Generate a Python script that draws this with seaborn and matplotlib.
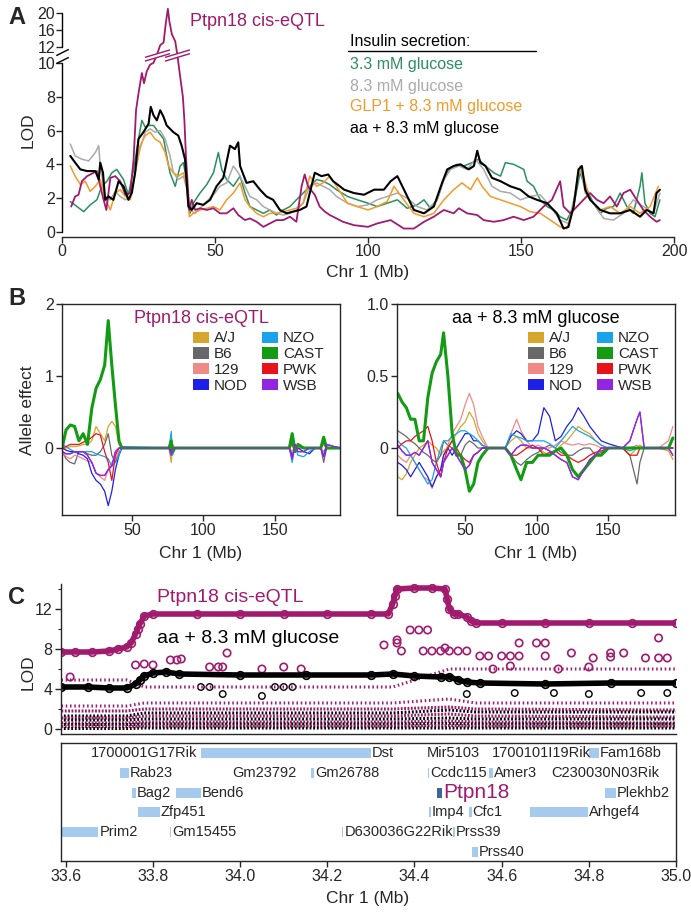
import numpy as np
import matplotlib
matplotlib.use("Agg")
import matplotlib.pyplot as plt
from matplotlib.path import Path
from matplotlib.patches import Patch
from matplotlib.lines import Line2D
import seaborn as sns

# ---------------- panel A: LOD profiles on Chr 1 ----------------
eqtl_mb = [3.0, 4.3, 5.4, 6.5, 8.2, 10.3, 11.4, 12.5, 13.6, 14.5, 15.8, 17.4, 19.0, 20.7, 22.3,
           23.4, 24.2, 25.0, 26.1, 26.8, 27.7, 28.8, 29.9, 31.0, 32.1, 33.2, 33.9, 34.6, 35.1,
           35.9, 37.0, 37.7, 38.6, 39.5, 40.0, 40.5, 41.1, 41.6, 42.4, 43.5, 45.1, 47.3, 49.5,
           51.6, 53.8, 56.0, 57.6, 59.8, 61.4, 63.6, 65.8, 67.9, 70.1, 72.3, 74.5, 76.6, 78.3,
           79.3, 80.4, 82.6, 84.2, 85.9, 87.5, 89.7, 91.8, 95.4, 100, 103, 107.4, 111.7, 115,
           118.3, 121.5, 124.8, 128, 129.7, 132.4, 135.7, 137.8, 141.1, 144.3, 147.6, 150.9,
           154.1, 157.4, 160.1, 162.8, 163.9, 166.1, 168.3, 170.4, 172.6, 174.8, 177, 179.1,
           181.3, 183.5, 185.7, 187.8, 190, 192.2, 194.3, 195.4]
eqtl_lod = [1.5, 2.1, 2.2, 3.0, 3.3, 3.5, 3.6, 2.7, 1.9, 1.3, 3.2, 3.3, 3.0, 2.2, 2.3,
            4.3, 7.2, 8.2, 9.4, 8.8, 9.5, 9.9, 10.0, 11.0, 12.4, 13.0, 17.5, 21.0, 18.0,
            15.0, 13.3, 11.0, 9.2, 8.0, 6.6, 4.5, 2.7, 1.3, 1.9, 1.3, 1.4, 1.3, 1.4,
            1.1, 1.1, 1.4, 1.0, 0.7, 0.8, 0.6, 0.3, 0.5, 0.7, 0.7, 0.9, 0.6, 2.7,
            3.4, 2.7, 2.2, 1.5, 1.2, 1.0, 0.8, 0.6, 0.4, 0.3, 0.5, 0.7, 0.2, 0.2,
            0.6, 0.9, 1.3, 1.1, 1.4, 1.1, 1.0, 0.7, 0.6, 0.7, 0.9, 0.7,
            0.9, 1.5, 1.9, 3.0, 1.5, 1.1, 1.5, 1.9, 2.3, 1.9, 1.7, 2.1,
            1.5, 2.3, 2.5, 1.9, 1.3, 0.9, 0.6, 0.7]

aa_mb = [2.7, 4.3, 6.0, 8.2, 10.9, 12.0, 12.5, 13.4, 14.1, 15.2, 16.8, 18.5, 20.1, 21.7, 22.8,
         23.9, 25.0, 26.6, 28.3, 29.0, 29.9, 31.0, 32.1, 33.2, 34.2, 35.3, 36.4, 38.0, 39.1,
         40.2, 41.3, 42.4, 44.0, 46.2, 48.4, 50.5, 52.7, 54.9, 56.5, 57.6, 58.2, 60.3, 62.5,
         64.7, 66.8, 69.0, 71.2, 73.4, 75.5, 77.7, 79.9, 82.6, 84.8, 87.0, 88.6, 90.8, 92.2,
         95.4, 98.7, 102, 105.2, 107.4, 109.6, 112.3, 115, 118.3, 121.5, 124.2, 125.9, 128,
         130.2, 132.9, 134.6, 135.7, 136.7, 138.4, 140.5, 143.3, 146.5, 149.8, 152.5, 155.2,
         158.5, 161.7, 163.9, 165.5, 167.2, 168.8, 169.9, 171, 172.6, 175.9, 179.1, 182.4,
         185.7, 188.9, 191.1, 193.3, 194.3, 195.4]
aa_lod = [4.5, 4.1, 3.7, 3.6, 3.6, 3.1, 4.1, 3.5, 1.9, 2.1, 1.9, 3.0, 2.7, 1.9, 2.3,
          3.5, 5.5, 5.9, 6.4, 7.4, 6.9, 6.6, 7.2, 6.8, 6.3, 6.1, 5.9, 5.7, 5.1,
          4.3, 1.5, 1.3, 1.7, 1.6, 1.9, 2.7, 3.2, 5.1, 4.9, 5.3, 3.9, 2.9, 3.0,
          2.5, 2.1, 1.9, 1.3, 1.1, 1.2, 1.3, 1.5, 3.5, 3.3, 3.4, 3.0, 2.7, 2.5,
          2.3, 2.2, 2.5, 2.5, 3.0, 3.3, 2.3, 1.3, 1.1, 1.5, 2.9, 3.7, 3.9,
          4.0, 3.7, 3.9, 4.8, 4.1, 3.9, 3.2, 3.0, 2.7, 2.5, 2.1, 1.9,
          1.7, 1.1, 0.2, 0.3, 1.5, 3.7, 3.9, 2.5, 1.9, 1.3, 1.1, 1.1,
          1.3, 0.9, 1.3, 1.1, 2.3, 2.5]

g33_mb = [2.7, 4.9, 7.1, 9.2, 11.4, 13.0, 14.7, 16.3, 17.9, 20.1, 21.7, 23.4, 25.0, 26.1, 27.2,
          28.3, 29.9, 31.5, 33.2, 34.2, 35.3, 37.0, 38.6, 39.7, 40.8, 41.8, 42.9, 45.1, 47.3,
          49.5, 51.1, 52.2, 53.8, 56.0, 58.2, 59.8, 61.4, 63.6, 65.8, 67.9, 70.1, 72.3, 74.5,
          76.6, 78.8, 81.0, 83.2, 85.3, 87.5, 89.7, 93.3, 96.5, 100, 103, 106.3, 109.6, 112.8,
          116.1, 118.3, 120.4, 122.6, 124.8, 127, 129.1, 131.3, 134, 136.2, 138.4, 141.1, 143.3,
          144.9, 147.6, 150.9, 152, 154.1, 156.3, 158.5, 160.7, 162.8, 165, 167.2, 169.3, 171,
          173.7, 175.9, 178.1, 180.2, 182.4, 184.6, 186.7, 188.9, 189.5, 190.5, 192.2, 193.8, 195.4]
g33_lod = [1.8, 1.5, 1.2, 1.6, 1.9, 2.7, 3.0, 3.5, 3.7, 3.1, 2.2, 3.7, 5.5, 6.6, 6.2,
           6.3, 6.3, 5.9, 5.5, 4.5, 3.5, 2.7, 3.9, 4.1, 2.9, 1.1, 1.7, 2.3, 2.8,
           3.5, 4.7, 3.7, 3.1, 2.7, 3.3, 2.3, 1.5, 1.3, 1.1, 1.3, 1.0, 1.3, 1.5,
           1.9, 2.3, 2.7, 3.1, 3.0, 2.8, 2.5, 2.1, 1.9, 1.7, 1.5, 1.7, 1.9, 1.4,
           1.6, 1.9, 1.4, 1.9, 3.1, 3.8, 4.0, 3.9, 4.1, 4.3, 3.9, 3.5, 3.3,
           4.1, 4.0, 3.7, 3.0, 2.7, 1.9, 1.5, 1.3, 0.9, 0.7, 1.5, 3.5, 2.7,
           1.7, 1.1, 1.4, 1.5, 2.3, 1.5, 1.1, 2.7, 3.5, 1.7, 1.1, 0.9, 1.9]

g83_mb = [2.7, 4.3, 6.5, 8.7, 10.9, 12.0, 12.5, 14.1, 15.8, 17.4, 19.0, 20.7, 22.3, 23.9, 25.5,
          27.2, 28.8, 30.4, 32.1, 33.7, 35.3, 36.4, 38.0, 39.7, 40.8, 41.8, 43.5, 45.7, 47.8,
          50.0, 51.6, 53.8, 56.0, 57.6, 59.8, 61.4, 63.6, 65.8, 67.9, 70.1, 72.3, 74.5, 76.6,
          78.8, 81.0, 83.2, 85.3, 87.5, 89.7, 93.3, 96.5, 100, 103, 106.3, 109.6, 112.8, 116.1,
          119.3, 122.6, 124.8, 127, 129.7, 132.4, 135.1, 137.8, 140.5, 143.3, 146.5, 149.8, 153,
          156.3, 159.6, 162.8, 165.5, 167.7, 169.3, 171, 173.7, 177, 180.2, 183.5, 186.7, 190,
          193.3, 195.4]
g83_lod = [5.2, 4.5, 4.3, 4.2, 4.7, 5.1, 3.9, 2.1, 1.9, 2.4, 2.1, 1.9, 2.1, 3.5, 4.9,
           5.9, 6.1, 5.9, 6.0, 5.5, 4.5, 3.5, 3.1, 3.3, 2.5, 1.3, 1.1, 1.5, 1.9,
           2.3, 2.7, 2.9, 3.9, 3.5, 2.7, 2.1, 1.9, 1.5, 1.3, 1.1, 1.0, 1.1, 1.3,
           1.7, 2.7, 2.9, 2.7, 2.5, 2.1, 1.7, 1.5, 1.6, 1.9, 2.1, 2.3, 2.0, 1.5,
           1.3, 1.9, 3.1, 3.7, 3.9, 3.7, 4.3, 3.7, 2.7, 2.4, 2.3, 1.9, 2.1,
           2.2, 1.5, 0.7, 0.5, 2.3, 3.9, 2.3, 1.7, 0.8, 0.7, 1.1, 1.9, 1.5,
           1.1, 2.3]

glp1_mb = [2.7, 4.3, 6.0, 7.6, 9.2, 10.9, 12.5, 14.1, 15.8, 17.4, 19.0, 20.7, 22.3, 23.9, 25.5,
           27.2, 28.8, 30.4, 32.1, 33.7, 34.8, 36.4, 38.0, 39.7, 40.8, 41.6, 42.9, 45.1, 47.3,
           49.5, 51.6, 53.8, 56.0, 58.2, 59.8, 61.4, 63.6, 65.8, 67.9, 70.1, 72.3, 74.5, 76.6,
           78.8, 81.0, 83.2, 85.3, 87.5, 89.7, 93.3, 96.5, 100, 103, 106.3, 108.5, 111.7, 115,
           118.3, 121.5, 124.8, 128, 130.7, 133.5, 135.7, 137.3, 140, 143.3, 146.5, 149.8, 153,
           156.3, 159.6, 162.8, 165, 167.2, 168.8, 170.4, 172.6, 175.9, 179.1, 182.4, 185.7,
           188.9, 192.2, 194.9]
glp1_lod = [3.9, 3.3, 2.8, 3.0, 2.4, 2.7, 3.1, 2.0, 1.3, 2.3, 2.5, 2.1, 1.9, 3.5, 5.1,
            5.7, 5.9, 5.5, 5.3, 4.7, 3.9, 3.5, 3.3, 3.5, 2.7, 0.9, 1.1, 1.3, 1.4,
            1.5, 1.3, 1.9, 2.3, 2.9, 1.9, 1.5, 1.1, 0.9, 1.1, 1.1, 1.2, 1.3, 1.4,
            1.7, 3.3, 2.7, 2.9, 3.3, 2.7, 1.7, 1.5, 1.3, 1.5, 1.8, 2.7, 1.9, 1.1,
            0.9, 1.1, 1.9, 2.5, 2.9, 2.5, 3.2, 2.7, 2.1, 1.9, 1.7, 1.5, 1.2,
            1.1, 0.7, 0.3, 0.2, 1.5, 3.7, 3.3, 1.9, 1.3, 1.5, 1.1, 1.5,
            1.1, 1.5, 2.7]

a_series = ["3.3 mM glucose", "8.3 mM glucose", "GLP1 + 8.3 mM glucose", "aa + 8.3 mM glucose"]
a_ticks_y = [0, 2, 4, 6, 8, 10, 12, 16, 20]

# ---------------- panel B: founder allele effects ----------------
founders = ["A/J", "B6", "129", "NOD", "NZO", "CAST", "PWK", "WSB"]
founder_colors = ["#d6a62c", "#686868", "#f08a86", "#1f1fe8", "#1aa3ea", "#139c13", "#e8121b", "#9225e0"]

bl_mb = [1.5, 4, 7, 10, 13, 16, 19, 22, 25, 28, 31, 33.5, 36, 38.5, 41, 43, 76, 77.5, 78.5, 80,
         160, 162, 164, 166, 170, 174, 178, 182, 184, 186, 195]
bl_aj = [-0.02, 0, 0.02, 0.02, 0.03, 0.05, 0.05, 0.1, 0.3, 0.2, 0.1, 0.3, 0.37, 0.3, 0.05, 0,
         0, -0.2, 0.05, 0, 0, 0.05, -0.05, 0, 0, 0, 0, 0, -0.05, 0, 0]
bl_b6 = [-0.05, -0.15, -0.2, -0.22, -0.05, -0.05, -0.08, -0.1, -0.1, -0.05, 0.05, 0.2, -0.1, -0.2,
         -0.05, 0, 0, -0.05, 0, 0, 0, 0.05, -0.05, 0, 0, 0, 0, 0, -0.2, 0, 0]
bl_129 = [-0.05, -0.12, -0.15, -0.1, -0.12, -0.15, -0.18, -0.2, -0.35, -0.4, -0.45, -0.3, -0.2,
          -0.15, -0.05, 0, 0, 0, -0.05, 0, 0, -0.05, 0.05, 0, 0, 0, 0, 0, 0.05, 0, 0]
bl_nod = [0, -0.03, -0.05, -0.05, -0.08, -0.1, -0.15, -0.35, -0.45, -0.5, -0.6, -0.8, -0.6, -0.3,
          -0.1, 0, 0, -0.05, 0, 0, 0, -0.1, 0, 0, -0.05, -0.08, 0, 0, -0.12, 0, 0]
bl_nzo = [0.05, 0.02, -0.02, -0.05, -0.05, -0.05, -0.05, -0.05, -0.08, -0.1, -0.12, -0.15, -0.25,
          -0.2, -0.1, 0.02, 0, 0.23, -0.1, 0, 0, -0.2, 0.05, -0.1, -0.12, -0.05, 0, 0, -0.1, 0.05, 0]
bl_cast = [0.02, 0.25, 0.32, 0.3, 0.1, 0.2, 0.05, 0.55, 0.83, 0.95, 1.15, 1.77, 1.15, 0.6, 0.1, 0,
           0, 0.1, -0.05, 0, 0, 0.2, -0.05, 0.05, 0, 0, 0, 0, 0.15, 0, 0]
bl_pwk = [0, 0.02, 0.05, 0.05, 0.05, 0.08, 0.1, 0.15, 0.2, 0.18, -0.05, -0.2, -0.45, -0.1, 0, 0,
          0, 0.02, 0, 0, 0, 0.1, -0.05, 0.05, 0, 0, 0, 0, 0.08, 0, 0]
bl_wsb = [-0.05, -0.08, -0.08, -0.05, -0.05, -0.05, -0.1, -0.2, -0.35, -0.38, -0.38, -0.3, -0.25,
          -0.05, 0, 0, 0, -0.1, 0, 0, 0, -0.15, 0.05, -0.05, -0.05, 0, 0, 0, -0.12, 0.05, 0]

br_mb = [3, 6, 9, 12, 15, 18, 21, 24, 27, 30, 33, 35, 38, 41, 44, 47, 50, 53, 56, 59, 62, 66,
         78, 82, 86, 89, 93, 97, 101, 105, 109, 113, 117, 121, 125, 129, 133, 137, 141, 145, 150,
         160, 165, 170, 172, 175, 185, 192, 195]
br_aj = [-0.2, -0.22, -0.18, -0.1, -0.05, 0, 0.02, 0.05, 0.02, 0, -0.05, -0.02, 0, 0.05, 0.1, 0.15,
         0.18, 0.25, 0.2, 0.1, 0.05, 0, 0, 0.05, 0.08, 0.05, 0, 0, 0, -0.03, -0.05, -0.02, 0.02, 0.05,
         0.1, 0.15, 0.12, 0.1, 0.05, 0.02, 0, 0, -0.05, 0, 0.02, 0, 0, -0.02, -0.08]
br_b6 = [0.12, 0.1, 0.08, 0.05, 0.03, 0, -0.03, -0.05, -0.08, -0.1, -0.05, 0.05, 0.02, 0, -0.03,
         -0.05, 0.02, 0.05, 0.03, 0, 0, 0, 0, -0.05, -0.1, -0.12, -0.08, -0.05, -0.03, 0, 0.02, 0,
         -0.03, -0.05, -0.05, -0.02, 0, 0, -0.05, -0.03, 0, 0, -0.05, -0.25, -0.1, 0, 0, 0, 0]
br_129 = [-0.05, -0.08, -0.1, -0.05, -0.1, -0.15, -0.2, -0.22, -0.28, -0.2, -0.15, -0.05, 0.02, 0.1,
          0.15, 0.2, 0.3, 0.38, 0.3, 0.15, 0.08, 0, 0, 0.1, 0.2, 0.12, 0.05, 0, 0.02, 0, 0, 0.02,
          0.05, 0.03, 0.02, 0.03, 0.02, 0.03, 0.02, 0, 0, 0, 0, 0.02, 0, 0, 0, 0.05, 0.15]
br_nod = [-0.1, -0.12, -0.15, -0.2, -0.15, -0.1, -0.15, -0.2, -0.27, -0.2, -0.15, -0.05, 0, -0.05,
          0, 0.05, 0.1, 0.1, 0.05, 0.05, 0.02, 0, 0, 0.08, 0.12, 0.1, 0.05, 0.05, 0.1, 0.28, 0.22,
          0.05, 0.08, 0.15, 0.2, 0.28, 0.22, 0.15, 0.1, 0.05, 0.03, 0, 0, 0, 0, 0, 0, 0, 0]
br_nzo = [0.05, 0.02, 0, -0.05, -0.1, -0.15, -0.2, -0.25, -0.22, -0.1, 0, 0.05, 0.05, 0.08, 0.1,
          0.12, 0.12, 0.1, 0.08, 0.05, 0.02, 0, 0, 0.1, 0.08, 0.07, 0.05, 0.05, 0.05, 0.05, 0.03, 0,
          0.05, 0.1, 0.15, 0.12, 0.1, 0.08, 0.05, 0.02, 0, 0, -0.02, 0, 0, 0, 0, 0, 0]
br_cast = [0.38, 0.32, 0.28, 0.2, 0.2, 0.05, 0.05, 0.35, 0.52, 0.6, 0.65, 0.8, 0.5, 0.1, -0.05,
           -0.05, -0.15, -0.3, -0.25, -0.1, -0.05, 0, 0, -0.05, -0.15, -0.22, -0.1, -0.1, -0.05,
           -0.05, -0.05, -0.02, 0, -0.05, -0.15, -0.2, -0.15, -0.1, -0.05, -0.05, 0, 0, 0, 0, 0, 0,
           0, 0, 0.07]
br_pwk = [0, 0.03, 0.05, 0.05, 0.08, 0.1, 0.12, 0.15, 0.05, -0.1, -0.2, -0.1, 0, 0.05, 0, -0.05,
          -0.08, -0.1, -0.05, -0.03, 0, 0, 0, -0.05, -0.05, -0.03, 0, 0.02, 0, -0.05, -0.03, -0.02,
          -0.05, -0.05, -0.08, -0.1, -0.08, -0.05, -0.03, -0.02, 0, 0, -0.05, -0.05, 0, 0, 0, 0, 0]
br_wsb = [0.02, -0.02, -0.05, -0.05, -0.03, -0.05, 0, 0.05, -0.1, -0.15, -0.2, -0.1, -0.05, 0,
          -0.05, -0.1, -0.15, -0.12, -0.05, -0.03, 0, 0, 0, -0.05, 0, 0.02, 0.02, 0, 0, 0, -0.02,
          -0.05, -0.08, -0.1, -0.2, -0.22, -0.15, -0.08, -0.05, 0, 0, 0, 0.05, 0.2, 0.25, 0, 0, 0,
          -0.05]

# ---------------- panel C: SNP association zoom ----------------
eqtl_c_mb = [33.59, 33.62, 33.66, 33.70, 33.72, 33.74, 33.75, 33.76, 33.765, 33.77, 33.78, 33.80,
             33.90, 34.00, 34.10, 34.20, 34.30, 34.34, 34.35, 34.355, 34.36, 34.40, 34.44, 34.47,
             34.475, 34.48, 34.49, 34.50, 34.52, 34.53, 34.54, 34.60, 34.70, 34.80, 34.90, 35.0]
eqtl_c_lod = [7.7, 7.7, 7.7, 7.8, 8.0, 8.2, 8.6, 9.5, 10.0, 10.5, 11.3, 11.5,
              11.5, 11.5, 11.5, 11.5, 11.5, 11.5, 12.5, 13.3, 14.0, 14.1, 14.1, 14.0,
              13.0, 12.0, 11.5, 11.5, 11.2, 10.8, 10.6, 10.6, 10.6, 10.6, 10.6, 10.6]
aa_c_mb = [33.59, 33.65, 33.70, 33.74, 33.76, 33.77, 33.78, 33.80, 33.83, 33.86, 34.00, 34.15,
           34.30, 34.35, 34.40, 34.46, 34.48, 34.50, 34.52, 34.55, 34.70, 34.85, 35.0]
aa_c_lod = [4.2, 4.2, 4.1, 4.1, 4.5, 4.9, 5.3, 5.6, 5.7, 5.5, 5.4, 5.4,
            5.4, 5.5, 5.3, 5.2, 5.2, 4.9, 4.7, 4.6, 4.5, 4.6, 4.6]

eqtl_snp_mb = [33.61, 33.76, 33.78, 33.80, 33.84, 33.855, 33.865, 33.93, 33.95, 33.96, 33.97,
               34.05, 34.10, 34.14, 34.33, 34.36, 34.36, 34.37, 34.39, 34.41, 34.43, 34.42, 34.44,
               34.46, 34.47, 34.48, 34.50, 34.52, 34.55, 34.57, 34.60, 34.62, 34.64, 34.64, 34.68,
               34.70, 34.70, 34.76, 34.81, 34.85, 34.85, 34.88, 34.93, 34.96, 34.96, 34.58, 34.62,
               34.73, 34.80, 34.98]
eqtl_snp_lod = [5.2, 6.4, 6.5, 6.4, 6.9, 6.9, 7.0, 6.2, 6.2, 6.2, 7.6,
                6.0, 6.2, 6.0, 8.4, 8.6, 8.9, 7.8, 9.9, 9.9, 9.9, 7.8, 7.8,
                7.8, 8.1, 7.8, 7.8, 7.8, 7.3, 7.3, 7.3, 7.3, 7.3, 8.6, 8.6,
                8.6, 7.3, 7.6, 7.1, 7.2, 7.6, 7.6, 7.1, 7.1, 9.1, 6.0, 6.3,
                6.0, 6.2, 7.1]
aa_snp_mb = [33.91, 33.93, 34.08, 34.10, 34.12, 33.96, 34.05, 34.52, 34.63, 34.72, 34.80, 34.92, 34.98]
aa_snp_lod = [4.2, 4.2, 4.2, 4.2, 4.2, 3.5, 3.3, 3.5, 3.6, 3.6, 3.5, 3.6, 3.6]

band_mb = [33.59, 33.74, 33.78, 34.35, 34.48, 34.54, 35.0]
eqtl_band_a = [4.9, 4.9, 4.2, 4.2, 6.0, 6.0, 6.0]
eqtl_band_b = [2.3, 2.3, 2.6, 2.6, 3.0, 2.6, 2.6]
eqtl_band_c = [1.8, 1.8, 2.0, 2.0, 2.2, 2.0, 1.9]
eqtl_band_d = [1.1, 1.1, 1.3, 1.3, 1.5, 1.3, 1.2]
eqtl_band_e = [0.6, 0.6, 0.7, 0.7, 0.8, 0.7, 0.6]
eqtl_band_f = [0.25, 0.25, 0.3, 0.3, 0.35, 0.3, 0.3]
aa_band_a = [1.3, 1.3, 1.6, 1.6, 1.9, 1.7, 1.7]
aa_band_b = [0.9, 0.9, 1.0, 1.0, 1.1, 1.0, 1.0]
aa_band_c = [0.45, 0.45, 0.5, 0.5, 0.55, 0.5, 0.5]
aa_band_d = [0.05, 0.05, 0.1, 0.1, 0.1, 0.1, 0.1]

gene_names = ["Prim2", "Rab23", "Bag2", "Zfp451", "Gm15455", "Bend6", "1700001G17Rik", "Dst",
              "Gm23792", "Gm26788", "D630036G22Rik", "Mir5103", "Ccdc115", "Imp4", "Ptpn18",
              "Prss39", "Cfc1", "Prss40", "Amer3", "1700101I19Rik", "Arhgef4", "C230030N03Rik",
              "Fam168b", "Plekhb2"]
gene_start = [33.591, 33.724, 33.752, 33.765, 33.840, 33.853, 33.903, 33.910, 33.980, 34.163,
              34.233, 34.426, 34.430, 34.433, 34.451, 34.489, 34.525, 34.532, 34.571, 34.575,
              34.666, 34.711, 34.801, 34.838]
gene_end = [33.675, 33.745, 33.761, 33.815, 33.842, 33.910, 33.903, 34.301, 33.980, 34.170,
            34.237, 34.426, 34.434, 34.438, 34.464, 34.493, 34.531, 34.546, 34.580, 34.575,
            34.799, 34.711, 34.824, 34.862]
gene_row = [5, 2, 3, 4, 5, 3, 1, 1, 2, 2, 5, 1, 2, 4, 3, 5, 4, 6, 2, 1, 4, 2, 1, 3]

MAG = "#a01a6e"
C_GREEN = "#2b8f5f"
C_GREY = "#aaaaaa"
C_ORANGE = "#f39a2b"
GENE_BLUE = "#a6c9ee"
GENE_DARK = "#3b679a"

W, H = 691, 913


def fig_rect(x0, y0, x1, y1):
    # pixel box (top-left origin) -> figure fraction
    return [x0 / W, 1 - y1 / H, (x1 - x0) / W, (y1 - y0) / H]


def fwd(y):
    y = np.asarray(y, dtype=float)
    return np.where(y <= 10, y, np.where(y <= 12, 10 + (y - 10) * 0.475, 10.95 + (y - 12) * 0.25))


def inv(t):
    t = np.asarray(t, dtype=float)
    return np.where(t <= 10, t, np.where(t <= 10.95, 10 + (t - 10) / 0.475, 12 + (t - 10.95) / 0.25))


def main():
    sns.set_style("ticks")
    plt.rcParams["font.family"] = ["Liberation Sans", "DejaVu Sans"]
    plt.rcParams["axes.linewidth"] = 1.0
    plt.rcParams["xtick.major.width"] = 1.0
    plt.rcParams["ytick.major.width"] = 1.0
    plt.rcParams["xtick.major.size"] = 4
    plt.rcParams["ytick.major.size"] = 4

    fig = plt.figure(figsize=(W / 100, H / 100), dpi=100)
    tick_fs = 11.5
    lab_fs = 12.5

    # ---------------- A ----------------
    ax = fig.add_axes(fig_rect(62, 5, 674, 237))
    ax.set_yscale("function", functions=(fwd, inv))
    opts = dict(estimator=None, sort=False)
    sns.lineplot(x=g33_mb, y=g33_lod, ax=ax, color=C_GREEN, lw=1.1, **opts)
    sns.lineplot(x=g83_mb, y=g83_lod, ax=ax, color=C_GREY, lw=1.1, **opts)
    sns.lineplot(x=glp1_mb, y=glp1_lod, ax=ax, color=C_ORANGE, lw=1.1, **opts)
    sns.lineplot(x=eqtl_mb, y=eqtl_lod, ax=ax, color=MAG, lw=1.3, **opts)
    sns.lineplot(x=aa_mb, y=aa_lod, ax=ax, color="black", lw=1.5, **opts)
    ax.set_xlim(0, 200)
    ax.set_ylim(-0.3, 21.9)
    ax.set_xticks([0, 50, 100, 150, 200])
    ax.set_yticks(a_ticks_y)
    ax.set_yticklabels([str(v) for v in a_ticks_y])
    ax.tick_params(labelsize=tick_fs, pad=1)
    ax.set_xlabel("")
    ax.set_ylabel("")
    for s in ["top", "right", "left"]:
        ax.spines[s].set_visible(False)
    ax.spines["bottom"].set_bounds(0, 200)
    blend = ax.get_yaxis_transform()
    ax.plot([0, 0], [0, 10], color="black", lw=1.0, transform=blend, clip_on=False)
    ax.plot([0, 0], [12, 20], color="black", lw=1.0, transform=blend, clip_on=False)
    slash = Path([(-1, -0.5), (1, 0.5)], [Path.MOVETO, Path.LINETO])
    ax.plot([0, 0], [10.4, 11.3], ls="none", marker=slash, markersize=9, color="black",
            mew=1.0, transform=blend, clip_on=False)
    # break marks where the eQTL curve crosses the axis break
    brk_x = [x for x, y in zip(eqtl_mb, eqtl_lod) if 10 < y < 12]
    gap = Path([(-1, -0.45), (1, 0.15), (1, 0.45), (-1, -0.15), (-1, -0.45)],
               [Path.MOVETO, Path.LINETO, Path.LINETO, Path.LINETO, Path.CLOSEPOLY])
    dbl = Path([(-1, -0.45), (1, 0.15), (-1, -0.15), (1, 0.45)],
               [Path.MOVETO, Path.LINETO, Path.MOVETO, Path.LINETO])
    ax.plot(brk_x, [11.0] * len(brk_x), ls="none", marker=gap, markersize=18, mfc="white",
            mec="white", mew=0, zorder=5)
    ax.plot(brk_x, [11.0] * len(brk_x), ls="none", marker=dbl, markersize=18, mfc="none",
            mec=MAG, mew=1.0, zorder=6)

    fig.text(190 / W, 1 - 22 / H, "Ptpn18 cis-eQTL", color=MAG, fontsize=13, va="center")
    fig.text(350 / W, 1 - 42 / H, "Insulin secretion:", color="black", fontsize=11.5, va="center")
    fig.add_artist(Line2D([348 / W, 536 / W], [1 - 51 / H, 1 - 51 / H], color="black", lw=1.0))
    for name, col, py in zip(a_series, [C_GREEN, C_GREY, C_ORANGE, "black"], [64, 86, 107, 128]):
        fig.text(350 / W, 1 - py / H, name, color=col, fontsize=11.5, va="center")
    fig.text(28 / W, 1 - 130 / H, "LOD", rotation=90, fontsize=lab_fs, va="center", ha="center")
    fig.text(368 / W, 1 - 272 / H, "Chr 1 (Mb)", fontsize=lab_fs, va="center", ha="center")
    fig.text(8 / W, 1 - 17 / H, "A", fontsize=17, fontweight="bold", va="center")

    # ---------------- B ----------------
    b_left = [bl_aj, bl_b6, bl_129, bl_nod, bl_nzo, bl_cast, bl_pwk, bl_wsb]
    b_right = [br_aj, br_b6, br_129, br_nod, br_nzo, br_cast, br_pwk, br_wsb]
    panels = [
        (fig_rect(62, 304, 340, 515), bl_mb, b_left, (1.2, 195.4), (-0.93, 2.0), [0, 1, 2],
         ["0", "1", "2"], "Ptpn18 cis-eQTL", MAG),
        (fig_rect(397, 304, 675, 515), br_mb, b_right, (2.5, 196.5), (-0.465, 1.0), [0, 0.5, 1.0],
         ["0", "0.5", "1.0"], "aa + 8.3 mM glucose", "black"),
    ]
    for rect, xs, ys_list, xl, yl, yt, ytl, title, tcol in panels:
        axb = fig.add_axes(rect)
        for name, col, ys in zip(founders, founder_colors, ys_list):
            if name != "CAST":
                sns.lineplot(x=xs, y=ys, ax=axb, color=col, lw=0.9, estimator=None, sort=False)
        cast_i = founders.index("CAST")
        sns.lineplot(x=xs, y=ys_list[cast_i], ax=axb, color=founder_colors[cast_i], lw=2.2,
                     estimator=None, sort=False)
        wsb_i = founders.index("WSB")
        sns.lineplot(x=xs, y=ys_list[wsb_i], ax=axb, color=founder_colors[wsb_i], lw=0.9,
                     estimator=None, sort=False)
        axb.set_xlim(*xl)
        axb.set_ylim(*yl)
        axb.set_xticks([50, 100, 150])
        axb.set_yticks(yt)
        axb.set_yticklabels(ytl)
        axb.tick_params(labelsize=tick_fs, pad=2)
        axb.set_xlabel("")
        axb.set_ylabel("")
        for s in axb.spines.values():
            s.set_visible(True)
            s.set_linewidth(1.0)
        axb.text(0.5, 0.93, title, transform=axb.transAxes, ha="center", va="center",
                 fontsize=13, color=tcol)
        handles = [Patch(facecolor=c, edgecolor="none", label=n) for n, c in zip(founders, founder_colors)]
        axb.legend(handles=handles, ncol=2, frameon=False, loc="upper left",
                   bbox_to_anchor=(0.47, 0.87), fontsize=11, handlelength=1.1, handleheight=0.75,
                   handletextpad=0.3, columnspacing=0.9, labelspacing=0.12, borderaxespad=0,
                   borderpad=0)
    fig.text(28 / W, 1 - 410 / H, "Allele effect", rotation=90, fontsize=lab_fs, va="center", ha="center")
    fig.text(201 / W, 1 - 553 / H, "Chr 1 (Mb)", fontsize=lab_fs, va="center", ha="center")
    fig.text(536 / W, 1 - 553 / H, "Chr 1 (Mb)", fontsize=lab_fs, va="center", ha="center")
    fig.text(8 / W, 1 - 298 / H, "B", fontsize=17, fontweight="bold", va="center")

    # ---------------- C (association) ----------------
    axc = fig.add_axes(fig_rect(61, 584, 676, 733.5))
    dots = dict(estimator=None, sort=False, lw=2.2, dashes=False)
    for lv in [eqtl_band_a, eqtl_band_b]:
        sns.lineplot(x=band_mb, y=lv, ax=axc, color=MAG, ls=(0, (0.5, 0.9)), **dots)
    for e_lv, a_lv in zip([eqtl_band_c, eqtl_band_d, eqtl_band_e, eqtl_band_f],
                          [aa_band_a, aa_band_b, aa_band_c, aa_band_d]):
        sns.lineplot(x=band_mb, y=e_lv, ax=axc, color=MAG, ls=(0, (0.6, 0.5)), **dots)
        sns.lineplot(x=band_mb, y=a_lv, ax=axc, color="black", ls=(0.4, (0.6, 0.6)), **dots)
    sns.scatterplot(x=aa_snp_mb, y=aa_snp_lod, ax=axc, s=22, facecolors="none",
                    edgecolor="black", linewidth=1.0)
    sns.scatterplot(x=eqtl_snp_mb, y=eqtl_snp_lod, ax=axc, s=28, facecolors="none",
                    edgecolor=MAG, linewidth=1.2)
    sns.lineplot(x=aa_c_mb, y=aa_c_lod, ax=axc, color="black", lw=4.0, estimator=None, sort=False,
                 marker="o", markersize=5.5, markerfacecolor="none", markeredgecolor="black",
                 markeredgewidth=1.2)
    sns.lineplot(x=eqtl_c_mb, y=eqtl_c_lod, ax=axc, color=MAG, lw=4.0, estimator=None, sort=False,
                 marker="o", markersize=5.5, markerfacecolor="none", markeredgecolor=MAG,
                 markeredgewidth=1.2)
    axc.set_xlim(33.589, 35.0)
    axc.set_ylim(-0.45, 14.5)
    axc.set_yticks([0, 4, 8, 12])
    axc.set_yticks([2, 6, 10, 14], minor=True)
    axc.tick_params(axis="y", which="minor", length=2.5, width=0.8)
    axc.set_xticks([])
    axc.tick_params(labelsize=tick_fs, pad=2)
    axc.set_xlabel("")
    axc.set_ylabel("")
    axc.spines["top"].set_visible(False)
    axc.spines["right"].set_visible(False)
    fig.text(157 / W, 1 - 598 / H, "Ptpn18 cis-eQTL", color=MAG, fontsize=14, va="center")
    fig.text(157 / W, 1 - 638 / H, "aa + 8.3 mM glucose", color="black", fontsize=14, va="center")
    fig.text(28 / W, 1 - 672 / H, "LOD", rotation=90, fontsize=lab_fs, va="center", ha="center")
    fig.text(8 / W, 1 - 597 / H, "C", fontsize=17, fontweight="bold", va="center")

    # ---------------- C (genes) ----------------
    axg = fig.add_axes(fig_rect(61, 743, 676, 861))
    for name, st, en, row in zip(gene_names, gene_start, gene_end, gene_row):
        col = GENE_DARK if name == "Ptpn18" else GENE_BLUE
        if en > st:
            axg.barh(row, en - st, left=st, height=0.5, color=col, edgecolor="none")
        if name == "Ptpn18":
            axg.text(en + 0.003, row, name, fontsize=15, color=MAG, va="center", ha="left")
        elif name == "1700001G17Rik":
            axg.text(st - 0.001, row, name, fontsize=10.5, va="center", ha="right")
        else:
            axg.text(en + 0.002, row, name, fontsize=10.5, va="center", ha="left")
    axg.set_xlim(33.589, 35.0)
    axg.set_ylim(6.45, 0.5)
    axg.set_yticks([])
    xt = [33.6, 33.8, 34.0, 34.2, 34.4, 34.6, 34.8, 35.0]
    axg.set_xticks(xt)
    axg.set_xticklabels([f"{v:.1f}" for v in xt])
    axg.tick_params(labelsize=tick_fs, pad=2)
    for s in axg.spines.values():
        s.set_visible(True)
        s.set_linewidth(1.0)
    fig.text(368 / W, 1 - 898 / H, "Chr 1 (Mb)", fontsize=lab_fs, va="center", ha="center")

    fig.savefig("out.png", dpi=100)


if __name__ == "__main__":
    main()
